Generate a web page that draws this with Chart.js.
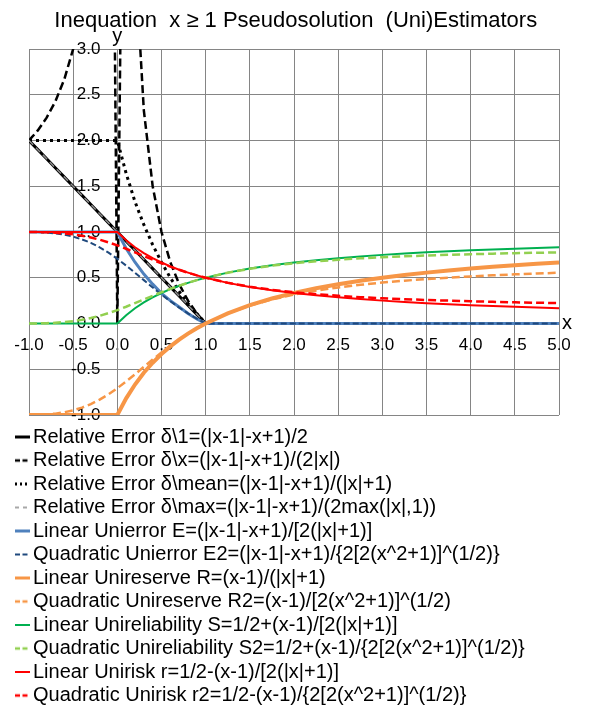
<!DOCTYPE html>
<html><head><meta charset="utf-8">
<script src="https://cdn.jsdelivr.net/npm/chart.js@4.4.1/dist/chart.umd.min.js"></script>
<style>html,body{margin:0;padding:0;background:#fff}</style>
</head><body>
<canvas id="c" width="590" height="716"></canvas>
<script>
// ---- data ----
const xValues = [-1.0,-0.9,-0.8,-0.7,-0.6,-0.5,-0.4,-0.3,-0.2,-0.1,0.0,0.1,0.2,0.3,0.4,0.5,0.6,0.7,0.8,0.9,1.0,1.25,1.5,1.75,2.0,2.25,2.5,2.75,3.0,3.25,3.5,3.75,4.0,4.25,4.5,4.75,5.0];
const relErr1    = [2,1.9,1.8,1.7,1.6,1.5,1.4,1.3,1.2,1.1,1,0.9,0.8,0.7,0.6,0.5,0.4,0.3,0.2,0.1,0,0,0,0,0,0,0,0,0,0,0,0,0,0,0,0,0];
const relErrX    = [2,2.11,2.25,2.43,2.67,3,3.5,4.33,6,11,0,9,4,2.33,1.5,1,0.67,0.43,0.25,0.11,0,0,0,0,0,0,0,0,0,0,0,0,0,0,0,0,0];
const relErrMean = [2,2,2,2,2,2,2,2,2,2,2,1.64,1.33,1.08,0.86,0.67,0.5,0.35,0.22,0.11,0,0,0,0,0,0,0,0,0,0,0,0,0,0,0,0,0];
const relErrMax  = [2,1.9,1.8,1.7,1.6,1.5,1.4,1.3,1.2,1.1,1,0.9,0.8,0.7,0.6,0.5,0.4,0.3,0.2,0.1,0,0,0,0,0,0,0,0,0,0,0,0,0,0,0,0,0];
const uniErrLin  = [1,1,1,1,1,1,1,1,1,1,1,0.82,0.67,0.54,0.43,0.33,0.25,0.18,0.11,0.05,0,0,0,0,0,0,0,0,0,0,0,0,0,0,0,0,0];
const uniErrQuad = [1,0.999,0.994,0.985,0.970,0.949,0.919,0.881,0.832,0.774,0.707,0.633,0.555,0.474,0.394,0.316,0.243,0.174,0.110,0.053,0,0,0,0,0,0,0,0,0,0,0,0,0,0,0,0,0];
const uniResLin  = [-1,-1,-1,-1,-1,-1,-1,-1,-1,-1,-1,-0.818,-0.667,-0.538,-0.429,-0.333,-0.25,-0.176,-0.111,-0.053,0,0.111,0.2,0.273,0.333,0.385,0.429,0.467,0.5,0.529,0.556,0.579,0.6,0.619,0.636,0.652,0.667];
const uniResQuad = [-1,-0.999,-0.994,-0.985,-0.970,-0.949,-0.919,-0.881,-0.832,-0.774,-0.707,-0.633,-0.555,-0.474,-0.394,-0.316,-0.243,-0.174,-0.110,-0.053,0,0.110,0.196,0.263,0.316,0.359,0.394,0.423,0.447,0.468,0.486,0.501,0.515,0.526,0.537,0.546,0.555];
const uniRelLin  = [0,0,0,0,0,0,0,0,0,0,0,0.091,0.167,0.231,0.286,0.333,0.375,0.412,0.444,0.474,0.5,0.556,0.6,0.636,0.667,0.692,0.714,0.733,0.75,0.765,0.778,0.789,0.8,0.81,0.818,0.826,0.833];
const uniRelQuad = [0,0.001,0.003,0.008,0.015,0.026,0.040,0.060,0.084,0.113,0.146,0.183,0.223,0.263,0.303,0.342,0.379,0.413,0.445,0.474,0.5,0.555,0.598,0.632,0.658,0.680,0.697,0.712,0.724,0.734,0.743,0.751,0.757,0.763,0.768,0.773,0.777];
const uniRiskLin = [1,1,1,1,1,1,1,1,1,1,1,0.909,0.833,0.769,0.714,0.667,0.625,0.588,0.556,0.526,0.5,0.444,0.4,0.364,0.333,0.308,0.286,0.267,0.25,0.235,0.222,0.211,0.2,0.19,0.182,0.174,0.167];
const uniRiskQuad= [1,0.999,0.997,0.992,0.985,0.974,0.960,0.940,0.916,0.887,0.854,0.817,0.777,0.737,0.697,0.658,0.621,0.587,0.555,0.526,0.5,0.445,0.402,0.368,0.342,0.320,0.303,0.288,0.276,0.266,0.257,0.250,0.243,0.237,0.232,0.227,0.223];

const seriesLabels = [
  "Relative Error \u03b4\\1=(|x-1|-x+1)/2",
  "Relative Error \u03b4\\x=(|x-1|-x+1)/(2|x|)",
  "Relative Error \u03b4\\mean=(|x-1|-x+1)/(|x|+1)",
  "Relative Error \u03b4\\max=(|x-1|-x+1)/(2max(|x|,1))",
  "Linear Unierror E=(|x-1|-x+1)/[2(|x|+1)]",
  "Quadratic Unierror E2=(|x-1|-x+1)/{2[2(x^2+1)]^(1/2)}",
  "Linear Unireserve R=(x-1)/(|x|+1)",
  "Quadratic Unireserve R2=(x-1)/[2(x^2+1)]^(1/2)",
  "Linear Unireliability S=1/2+(x-1)/[2(|x|+1)]",
  "Quadratic Unireliability S2=1/2+(x-1)/{2[2(x^2+1)]^(1/2)}",
  "Linear Unirisk r=1/2-(x-1)/[2(|x|+1)]",
  "Quadratic Unirisk r2=1/2-(x-1)/{2[2(x^2+1)]^(1/2)}"
];
const seriesValues = [relErr1, relErrX, relErrMean, relErrMax, uniErrLin, uniErrQuad,
  uniResLin, uniResQuad, uniRelLin, uniRelQuad, uniRiskLin, uniRiskQuad];
const xTickStep = 0.5, yTickStep = 0.5;
const titleText = "Inequation  x \u2265 1 Pseudosolution  (Uni)Estimators";

// ---- styles ----
const styles = [
  {c:'#000000', w:3,   d:[],    ld:[]},
  {c:'#000000', w:2.5, d:[8,4], ld:[5,2.5]},
  {c:'#000000', w:3,   d:[3,4], ld:[2,3]},
  {c:'#8c8c8c', w:1.5, d:[6,4], ld:[4,4]},
  {c:'#4f81bd', w:3,   d:[],    ld:[]},
  {c:'#1f497d', w:2,   d:[6,3], ld:[5,2.5]},
  {c:'#f79646', w:4,   d:[],    ld:[]},
  {c:'#f79646', w:2.5, d:[8,4], ld:[5,2.5]},
  {c:'#00b050', w:2,   d:[],    ld:[]},
  {c:'#92d050', w:2.5, d:[8,4], ld:[5,2.5]},
  {c:'#ff0000', w:2,   d:[],    ld:[]},
  {c:'#ff0000', w:2.5, d:[8,4], ld:[5,2.5]}
];
const FONT = '"Liberation Sans", Arial, Helvetica, sans-serif';
const LEGEND_FONT = 20;

// legend sample images: line from 4px left of the box centre to 11px right of it
function sampleImage(s){
  const cv = document.createElement('canvas');
  cv.width = 22; cv.height = 8;
  const g = cv.getContext('2d');
  g.strokeStyle = s.c; g.lineWidth = Math.min(s.w, 3); g.setLineDash(s.ld);
  g.beginPath(); g.moveTo(7, 4); g.lineTo(22, 4); g.stroke();
  return cv;
}
const samples = styles.map(sampleImage);

const datasets = seriesValues.map((vals, i) => ({
  label: seriesLabels[i],
  data: xValues.map((x, k) => ({x: x, y: vals[k]})),
  borderColor: styles[i].c,
  backgroundColor: styles[i].c,
  borderWidth: styles[i].w,
  borderDash: styles[i].d,
  pointRadius: 0,
  pointHoverRadius: 0,
  tension: 0,
  fill: false,
  order: seriesValues.length - i
}));

const axisLetters = {
  id: 'axisLetters',
  afterDraw(chart) {
    const {ctx, scales: {x, y}} = chart;
    ctx.save();
    ctx.fillStyle = '#000';
    ctx.font = '20px ' + FONT;
    ctx.textAlign = 'center'; ctx.textBaseline = 'alphabetic';
    ctx.fillText('y', x.getPixelForValue(0), y.top - 7);
    ctx.textAlign = 'left';
    ctx.fillText('x', x.right + 3, y.getPixelForValue(0) + 5);
    ctx.restore();
  }
};

new Chart(document.getElementById('c'), {
  type: 'line',
  data: { datasets },
  plugins: [axisLetters],
  options: {
    responsive: false,
    animation: false,
    devicePixelRatio: 1,
    layout: { padding: { left: 11.5, right: 10, top: 0, bottom: 0.5 } },
    scales: {
      x: {
        type: 'linear', axis: 'x', min: -1, max: 5,
        position: { y: 0 },
        afterFit: (s) => { s.paddingLeft = 29; s.paddingRight = 31; },
        grid: { color: '#858585', lineWidth: 1, drawTicks: false },
        border: { color: '#858585', width: 1 },
        ticks: { stepSize: xTickStep, autoSkip: false, maxRotation: 0, padding: 12,
          color: '#000', font: { family: FONT, size: 17 },
          callback: (v) => Number(v).toFixed(1) }
      },
      y: {
        type: 'linear', axis: 'y', min: -1, max: 3,
        position: { x: 0 },
        grid: { color: '#858585', lineWidth: 1, drawTicks: false },
        border: { color: '#858585', width: 1 },
        ticks: { stepSize: yTickStep, autoSkip: false,
          color: '#000', font: { family: FONT, size: 17 },
          callback: (v) => Number(v).toFixed(1) + '\u2002\u2002' }
      }
    },
    plugins: {
      tooltip: { enabled: false },
      title: {
        display: true, text: titleText, color: '#000',
        font: { family: FONT, size: 22, weight: 'normal', lineHeight: 1.2 },
        padding: { top: 8, bottom: 14.6 }
      },
      legend: {
        display: true, position: 'bottom', align: 'start',
        title: { display: true, text: ' ', font: { size: 4.5, lineHeight: 1 }, padding: { top: 4, bottom: 0 } },
        labels: {
          usePointStyle: true, pointStyleWidth: 8, padding: 3.5,
          color: '#000', font: { family: FONT, size: LEGEND_FONT },
          generateLabels: (chart) => chart.data.datasets.map((ds, i) => ({
            text: ds.label, fillStyle: ds.borderColor, strokeStyle: ds.borderColor,
            lineWidth: 0, pointStyle: samples[i], hidden: false, datasetIndex: i, fontColor: '#000'
          }))
        }
      }
    }
  }
});
</script>
</body></html>
